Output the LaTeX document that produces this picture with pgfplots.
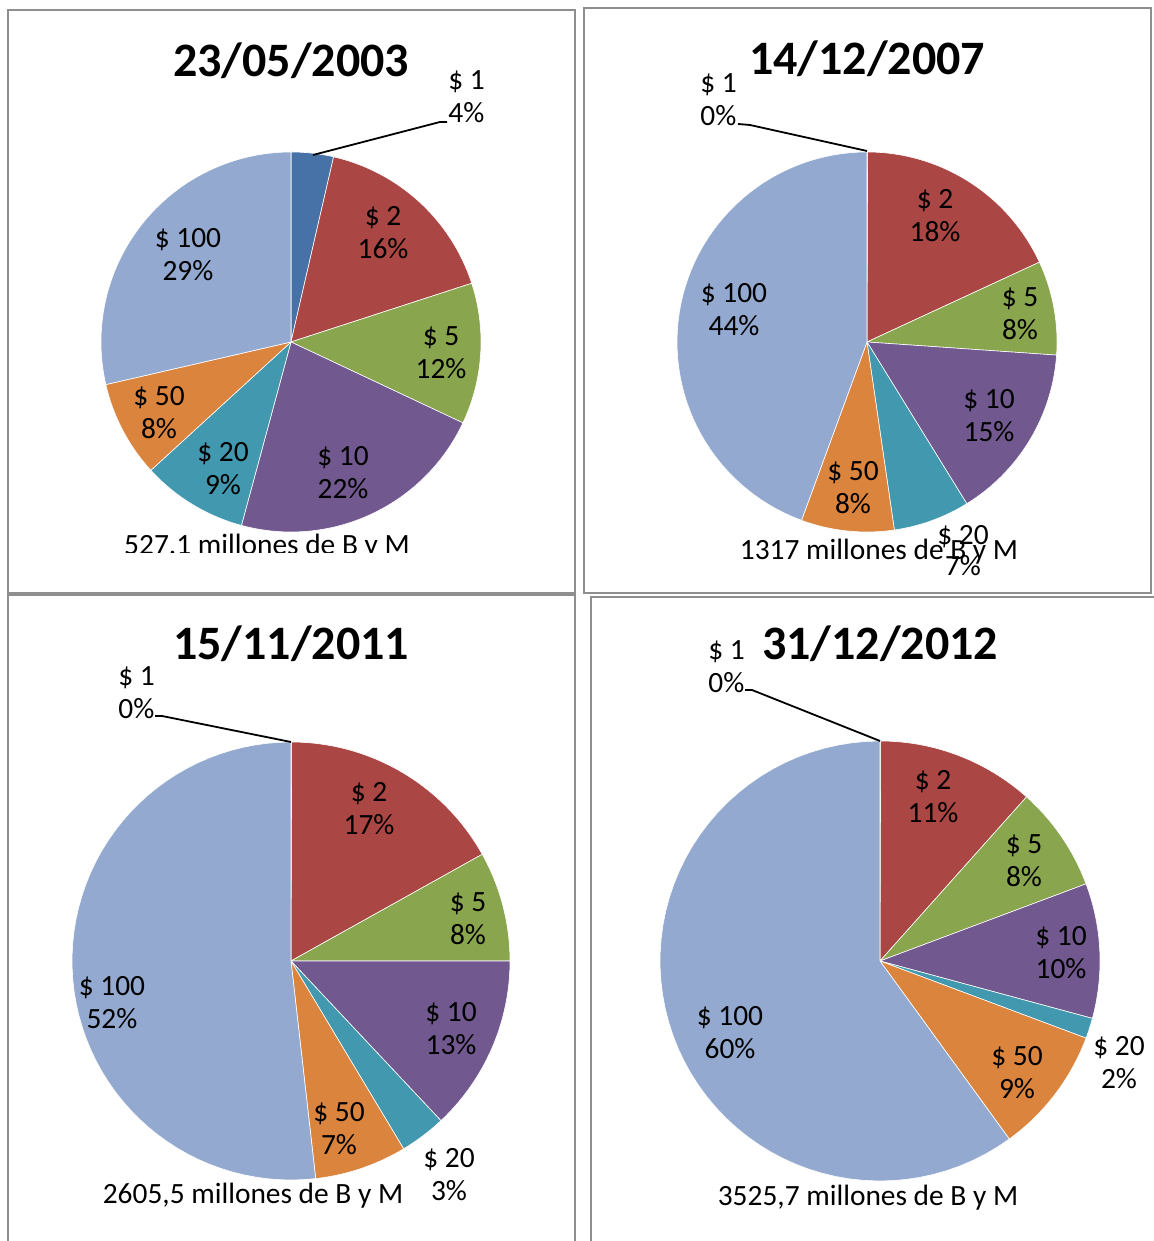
\documentclass[border=0pt]{standalone}
\usepackage{pgfplots}
\pgfplotsset{compat=1.18}
\usepackage{fontspec}
\setmainfont{Carlito}
\definecolor{c1}{HTML}{4672A8}
\definecolor{c2}{HTML}{AA4643}
\definecolor{c3}{HTML}{89A54E}
\definecolor{c4}{HTML}{71588F}
\definecolor{c5}{HTML}{4198AF}
\definecolor{c6}{HTML}{DB843D}
\definecolor{c7}{HTML}{93A9CF}
\definecolor{frame}{HTML}{8E8E8E}
\newcommand\resetpie{\gdef\cum{0}}
\newcommand\slice[2]{%
  \pgfmathsetmacro\pa{90-3.6*\cum}%
  \pgfmathsetmacro\pb{90-3.6*(\cum+#1)}%
  \pgfmathsetmacro\nc{\cum+#1}\xdef\cum{\nc}%
  \edef\tmp{\noexpand\addplot[fill=#2, draw=white, line width=0.3pt, domain=\pb:\pa, samples=60, variable=\noexpand\t] ({cos(\noexpand\t)},{sin(\noexpand\t)}) -- (axis cs:0,0) -- cycle;}%
  \tmp}
\pgfplotsset{pieaxis/.style={anchor=center, scale only axis, xmin=-1, xmax=1, ymin=-1, ymax=1, hide axis, clip=false}}
\tikzset{lbl/.style={anchor=base, inner sep=0pt, font=\fontsize{14.7}{17}\selectfont},
  ttl/.style={anchor=base, inner sep=0pt, font=\fontsize{24}{28}\selectfont\bfseries}}
\newcommand\lab[4]{%
  \node[lbl] at (#1,{1241-#2-9}) {#3};
  \node[lbl] at (#1,{1241-#2-42}) {#4};}
\newcommand\labw[4]{%
  \node[lbl, anchor=base west] at (#1,{1241-#2-9}) {#3};
  \node[lbl, anchor=base west] at (#1,{1241-#2-42}) {#4};}
\begin{document}
\begin{tikzpicture}[x=0.5pt, y=0.5pt]
\useasboundingbox (0,0) rectangle (1153,1241);
% frames
\draw[frame, line width=1pt] (8,{1241-10}) rectangle (575,{1241-593});
\draw[frame, line width=1pt] (584,{1241-8}) rectangle (1151,{1241-593});
\draw[frame, line width=1pt] (8,-20) -- (8,{1241-595}) -- (575,{1241-595}) -- (575,-20);
\draw[frame, line width=1pt] (591,-20) -- (591,{1241-597}) -- (1170,{1241-597});

% ---- 23/05/2003 ----
\begin{axis}[pieaxis, at={(145.5pt,449.5pt)}, width=190pt, height=190pt]
\resetpie
\slice{3.6}{c1}
\slice{16.4}{c2}
\slice{12.0}{c3}
\slice{22.2}{c4}
\slice{9.0}{c5}
\slice{8.2}{c6}
\slice{28.6}{c7}
\end{axis}
% ---- 14/12/2007 ----
\begin{axis}[pieaxis, at={(433.5pt,449.5pt)}, width=190pt, height=190pt]
\resetpie
\slice{0.05}{c1}
\slice{18.05}{c2}
\slice{8.0}{c3}
\slice{15.1}{c4}
\slice{6.5}{c5}
\slice{7.9}{c6}
\slice{44.4}{c7}
\end{axis}
% ---- 15/11/2011 ----
\begin{axis}[pieaxis, at={(145.5pt,140pt)}, width=219pt, height=219pt]
\resetpie
\slice{0.05}{c1}
\slice{16.85}{c2}
\slice{8.1}{c3}
\slice{13.0}{c4}
\slice{3.4}{c5}
\slice{6.8}{c6}
\slice{51.8}{c7}
\end{axis}
% ---- 31/12/2012 ----
\begin{axis}[pieaxis, at={(440pt,140pt)}, width=220pt, height=220pt]
\resetpie
\slice{0.05}{c1}
\slice{11.55}{c2}
\slice{7.7}{c3}
\slice{9.9}{c4}
\slice{1.5}{c5}
\slice{9.3}{c6}
\slice{60.0}{c7}
\end{axis}

% titles
\node[ttl] at (291,{1241-77}) {23/05/2003};
\node[ttl] at (867,{1241-75}) {14/12/2007};
\node[ttl] at (291,{1241-660}) {15/11/2011};
\node[ttl] at (880,{1241-660}) {31/12/2012};

% panel 1 labels
\draw[line width=0.9pt] (447,{1241-122}) -- (440,{1241-122}) -- (313,{1241-155});
\labw{448}{81}{\$ 1}{4\%}
\lab{383}{217}{\$ 2}{16\%}
\lab{441}{337}{\$ 5}{12\%}
\lab{343}{457}{\$ 10}{22\%}
\lab{223}{453}{\$ 20}{9\%}
\lab{159}{397}{\$ 50}{8\%}
\lab{188}{239}{\$ 100}{29\%}
\begin{scope}
\clip (8,{1241-553}) rectangle (575,{1241-500});
\node[lbl] at (267,{1241-555}) {527.1 millones de B y M};
\end{scope}

% panel 2 labels
\draw[line width=0.9pt] (738,{1241-124}) -- (750,{1241-125}) -- (867,{1241-151});
\labw{700}{84}{\$ 1}{0\%}
\lab{935}{200}{\$ 2}{18\%}
\lab{1020}{298}{\$ 5}{8\%}
\lab{989}{400}{\$ 10}{15\%}
\lab{853}{472}{\$ 50}{8\%}
\lab{734}{294}{\$ 100}{44\%}
\node[lbl] at (879,{1241-560}) {1317 millones de B y M};
\node[lbl] at (963,{1241-545}) {\$ 20};
\node[lbl] at (963,{1241-576}) {7\%};

% panel 3 labels
\draw[line width=0.9pt] (155,{1241-716}) -- (162,{1241-716}) -- (291,{1241-742});
\labw{118}{677}{\$ 1}{0\%}
\lab{369}{793}{\$ 2}{17\%}
\lab{468}{903}{\$ 5}{8\%}
\lab{451}{1013}{\$ 10}{13\%}
\lab{449}{1159}{\$ 20}{3\%}
\lab{339}{1113}{\$ 50}{7\%}
\lab{112}{987}{\$ 100}{52\%}
\node[lbl] at (253,{1241-1204}) {2605,5 millones de B y M};

% panel 4 labels
\draw[line width=0.9pt] (745,{1241-690}) -- (752,{1241-690}) -- (880,{1241-741});
\labw{708}{651}{\$ 1}{0\%}
\lab{933}{781}{\$ 2}{11\%}
\lab{1024}{845}{\$ 5}{8\%}
\lab{1061}{937}{\$ 10}{10\%}
\lab{1119}{1047}{\$ 20}{2\%}
\lab{1017}{1057}{\$ 50}{9\%}
\lab{730}{1017}{\$ 100}{60\%}
\node[lbl] at (868,{1241-1206}) {3525,7 millones de B y M};
\end{tikzpicture}
\end{document}
